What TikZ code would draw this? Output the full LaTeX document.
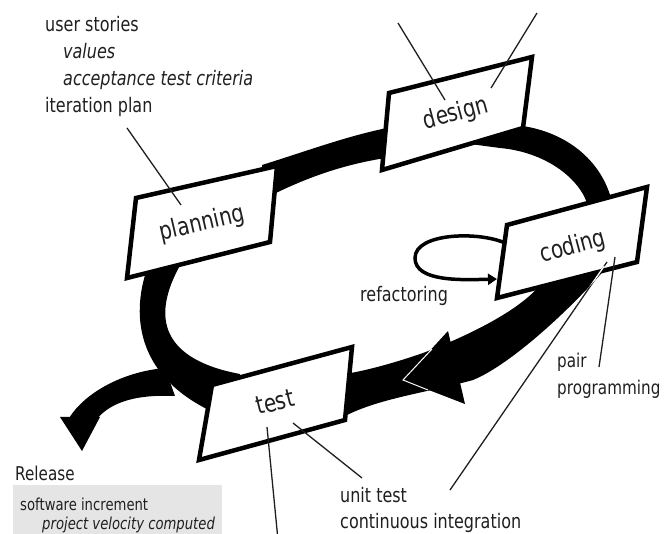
\documentclass[tikz,border=0pt]{standalone}
\usepackage{fontspec}
\setmainfont{DejaVu Sans}[FakeStretch=0.8]
\usetikzlibrary{arrows.meta}
\begin{document}
\begin{tikzpicture}[x=1pt,y=-1pt,
  box/.style={draw=black, fill=white, line width=4.5pt, line join=miter},
  boxtext/.style={font=\fontsize{25}{30}\selectfont, text=black!88, inner sep=0pt},
  lbl/.style={font=\fontsize{20}{27}\selectfont, text=black!88, inner sep=0pt, anchor=base west},
  small/.style={font=\fontsize{16.5}{20}\selectfont, text=black!88, inner sep=0pt, anchor=base west},
  lead/.style={line width=1.3pt, black!88},
  band/.style={fill=black}]
\useasboundingbox (0,0) rectangle (664,534);

% ---- thick cycle band ----
% planning -> design
\fill[band] (262,165) .. controls (310,150) and (350,135) .. (392,127) -- (392,157)
  .. controls (350,163) and (310,175) .. (262,200) -- cycle;
% design -> coding
\fill[band] (470,125) -- (515,125) .. controls (565,130) and (602,160) .. (612,202) -- (588,206)
  .. controls (580,178) and (545,152) .. (500,148) -- (470,144) -- cycle;
% coding -> test
\def\codingtestband{(604,266) -- (540,285) .. controls (520,310) and (470,335) .. (423,353)
  .. controls (400,361) and (370,370) .. (345,374) -- (345,416)
  .. controls (380,398) and (430,392) .. (473,380)
  .. controls (510,365) and (570,310) .. (606,268) -- cycle}
\fill[band] \codingtestband;
% test -> planning
\fill[band] (148,266) .. controls (132,310) and (132,375) .. (215,413) -- (245,400) -- (240,374)
  .. controls (165,360) and (148,320) .. (182,262) -- cycle;
% release branch
\fill[band] (165,368) .. controls (120,372) and (82,395) .. (68,420) -- (96,420)
  .. controls (108,405) and (130,394) .. (175,396) -- cycle;
\fill[band] (60,417) -- (100,417) -- (82,451) -- cycle;

% ---- boxes ----
\draw[box] (389,93) -- (532,57) -- (523,128) -- (382,170) -- cycle;
\draw[box] (136,198) -- (277,166) -- (270,242) -- (127,278) -- cycle;
\draw[box] (507,225) -- (647,187) -- (637,262) -- (497,298) -- cycle;
\draw[box] (212,385) -- (352,347) -- (345,420) -- (199,460) -- cycle;

\node[boxtext, rotate=15] (design) at (456,114) {design};
\node[boxtext, rotate=13] (planning) at (202,224) {planning};
\node[boxtext, rotate=15] (coding) at (573,247) {coding};
\node[boxtext, rotate=14] (test) at (275,402) {test};

% arrowhead on the coding -> test band
\fill[band] (448,331) -- (403,380) -- (465,404) -- cycle;
\draw[white, line width=1pt] (432,349) -- (403,380) -- (428,390);

% ---- refactoring loop ----
\coordinate (rfS) at (505,243);
\coordinate (rfE) at (497,279);
\draw[line width=3.5pt, -{Triangle[length=9pt,width=11pt]}] (rfS)
  .. controls (478,231) and (415,233) .. (415,258)
  .. controls (415,282) and (462,280) .. (rfE);
\node[lbl] (refac) at (360,302) {refactoring};

% ---- labels ----
\node[lbl] (us) at (45,32) {user stories};
\node[lbl] (val) at (63,59) {\itshape values};
\node[lbl] (atc) at (63,86) {\itshape acceptance test criteria};
\node[lbl] (ip) at (45,113) {iteration plan};

\node[lbl, font=\fontsize{19}{25}\selectfont] (pair) at (557,368) {pair};
\node[lbl, font=\fontsize{19}{25}\selectfont] (pp) at (557,395) {programming};
\node[lbl] (ut) at (340,502) {unit test};
\node[lbl] (ci) at (340,528) {continuous integration};

\node[lbl, font=\fontsize{19}{23}\selectfont] (rel) at (15,480) {Release};
\fill[black!10] (13,485) rectangle (222,540);
\node[small] (si) at (20,510) {software increment};
\node[small] (pvc) at (42,529) {\itshape project velocity computed};

% ---- leader lines ----
\coordinate (ipA) at (127,128); \coordinate (ipB) at (181,205);
\draw[lead] (ipA) -- (ipB);
\coordinate (dA) at (398,23); \coordinate (dB) at (445,100);
\draw[lead] (dA) -- (dB);
\coordinate (dC) at (537,13); \coordinate (dD) at (491,88);
\draw[lead] (dC) -- (dD);
\coordinate (cA) at (615,257); \coordinate (cB) at (599,367);
\draw[lead] (cA) -- (cB);
\coordinate (cC) at (607,262); \coordinate (cD) at (450,490);
\draw[lead] (cC) -- (cD);
\begin{scope}
  \clip \codingtestband;
  \draw[white, line width=1.3pt] (cC) -- (cD);
\end{scope}
\coordinate (tA) at (267,427); \coordinate (tB) at (278,540);
\draw[lead] (tA) -- (tB);
\coordinate (tC) at (293,423); \coordinate (tD) at (362,478);
\draw[lead] (tC) -- (tD);
\end{tikzpicture}
\end{document}
